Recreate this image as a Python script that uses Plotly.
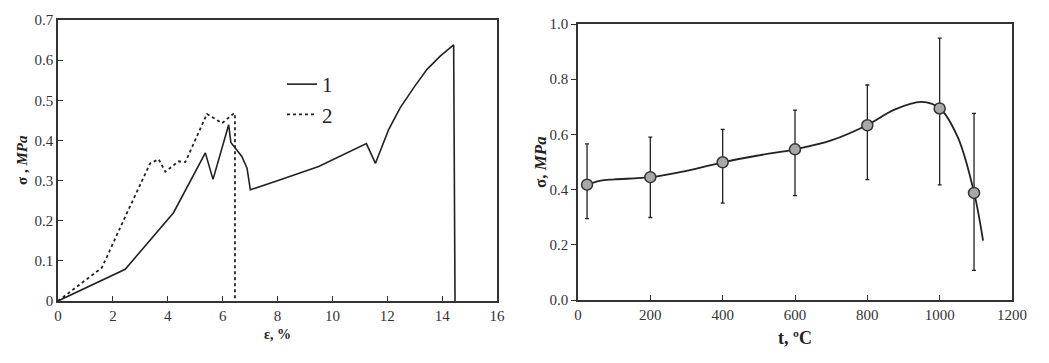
import plotly.graph_objects as go

# ---- Left chart: stress-strain curves ----
strain_1 = [0, 2.45, 4.21, 5.37, 5.65, 6.22, 6.30, 6.46, 6.70, 6.89, 7.01, 8.10, 9.50, 11.24, 11.57, 12.05, 12.47, 12.96, 13.45, 13.93, 14.42, 14.47]
stress_1 = [0, 0.079, 0.22, 0.369, 0.303, 0.439, 0.395, 0.381, 0.360, 0.331, 0.277, 0.302, 0.335, 0.392, 0.343, 0.427, 0.481, 0.531, 0.577, 0.610, 0.638, 0.0]

strain_2 = [0, 1.60, 2.45, 3.36, 3.67, 3.91, 4.40, 4.64, 5.43, 5.98, 6.40, 6.45, 6.45]
stress_2 = [0, 0.083, 0.21, 0.343, 0.353, 0.322, 0.348, 0.346, 0.466, 0.443, 0.467, 0.467, 0.0]

legend_names = ["1", "2"]

# ---- Right chart: strength vs temperature ----
temp_pts = [25, 200, 400, 600, 800, 1000, 1095]
sigma_pts = [0.418, 0.445, 0.499, 0.546, 0.633, 0.694, 0.388]
err_upper = [0.566, 0.590, 0.618, 0.688, 0.779, 0.949, 0.676]
err_lower = [0.295, 0.299, 0.351, 0.378, 0.436, 0.417, 0.107]

curve_t = [25, 60, 100, 200, 300, 400, 500, 600, 700, 800, 875, 950, 1000, 1050, 1095, 1120]
curve_s = [0.418, 0.432, 0.437, 0.445, 0.468, 0.499, 0.524, 0.546, 0.578, 0.634, 0.690, 0.718, 0.695, 0.590, 0.390, 0.215]

left_xticks = list(range(0, 17, 2))
left_yticks = [0, 0.1, 0.2, 0.3, 0.4, 0.5, 0.6, 0.7]
left_yticklabels = ["0", "0.1", "0.2", "0.3", "0.4", "0.5", "0.6", "0.7"]
right_xticks = list(range(0, 1201, 200))
right_yticks = [0.0, 0.2, 0.4, 0.6, 0.8, 1.0]

FONT = "Liberation Serif"
INK = "#222222"
W, H = 1049, 363
OFF = 8  # page body margin of the browser

fig = go.Figure()

fig.add_trace(go.Scatter(x=strain_1, y=stress_1, mode="lines", name=legend_names[0],
                         line=dict(color=INK, width=1.6), xaxis="x", yaxis="y"))
fig.add_trace(go.Scatter(x=strain_2, y=stress_2, mode="lines", name=legend_names[1],
                         line=dict(color=INK, width=1.8, dash="dot"), xaxis="x", yaxis="y"))

fig.add_trace(go.Scatter(x=curve_t, y=curve_s, mode="lines", showlegend=False,
                         line=dict(color=INK, width=1.8, shape="spline", smoothing=1.0),
                         xaxis="x2", yaxis="y2"))
fig.add_trace(go.Scatter(
    x=temp_pts, y=sigma_pts, mode="markers", showlegend=False,
    marker=dict(size=11, color="#a8a8a8", line=dict(color="#333333", width=1.5)),
    error_y=dict(type="data", symmetric=False,
                 array=[u - s for u, s in zip(err_upper, sigma_pts)],
                 arrayminus=[s - l for s, l in zip(sigma_pts, err_lower)],
                 color=INK, thickness=1.3, width=2),
    xaxis="x2", yaxis="y2"))

def px_x(p):
    return (p - OFF) / W

def px_y(p):
    return 1 - (p - OFF) / H

axis_common = dict(showline=True, linecolor="#333333", linewidth=1.5, mirror=True,
                   showgrid=False, zeroline=False, ticklen=5, tickcolor="#333333",
                   automargin=False,
                   tickfont=dict(family=FONT, size=15, color="#333333"))

fig.update_layout(
    width=W, height=H,
    margin=dict(l=0, r=0, t=0, b=0, pad=0),
    paper_bgcolor="white", plot_bgcolor="white",
    font=dict(family=FONT, color=INK),
    xaxis=dict(domain=[px_x(58), px_x(497)], range=[0, 16], tickvals=left_xticks,
               ticks="inside", anchor="y", **axis_common),
    yaxis=dict(domain=[px_y(301), px_y(20)], range=[0, 0.7], tickvals=left_yticks,
               ticktext=left_yticklabels, ticks="inside", anchor="x", **axis_common),
    xaxis2=dict(domain=[px_x(578), px_x(1012)], range=[0, 1200], tickvals=right_xticks,
                ticks="inside", anchor="y2", **axis_common),
    yaxis2=dict(domain=[px_y(300), px_y(24)], range=[0, 1.0], tickvals=right_yticks,
                tickformat=".1f", ticks="outside", anchor="x2", **axis_common),
    legend=dict(x=px_x(282), y=px_y(64), xanchor="left", yanchor="top",
                bgcolor="rgba(0,0,0,0)", font=dict(family=FONT, size=21, color=INK),
                itemwidth=30, tracegroupgap=0),
    showlegend=True,
)

fig.add_annotation(text="<b>ε, %</b>", x=px_x(277), y=px_y(334), xref="paper", yref="paper",
                   xanchor="center", yanchor="middle",
                   showarrow=False, font=dict(family=FONT, size=14, color=INK))
fig.add_annotation(text="<b>σ , <i>MPa</i></b>", x=px_x(22), y=px_y(160), xref="paper", yref="paper",
                   xanchor="center", yanchor="middle",
                   showarrow=False, textangle=-90, font=dict(family=FONT, size=15, color=INK))
fig.add_annotation(text="<b>t, ºC</b>", x=px_x(795), y=px_y(338), xref="paper", yref="paper",
                   xanchor="center", yanchor="middle",
                   showarrow=False, font=dict(family=FONT, size=18, color=INK))
fig.add_annotation(text="<b>σ, <i>MPa</i></b>", x=px_x(540), y=px_y(162), xref="paper", yref="paper",
                   xanchor="center", yanchor="middle",
                   showarrow=False, textangle=-90, font=dict(family=FONT, size=17, color=INK))

fig.write_html("out.html")
